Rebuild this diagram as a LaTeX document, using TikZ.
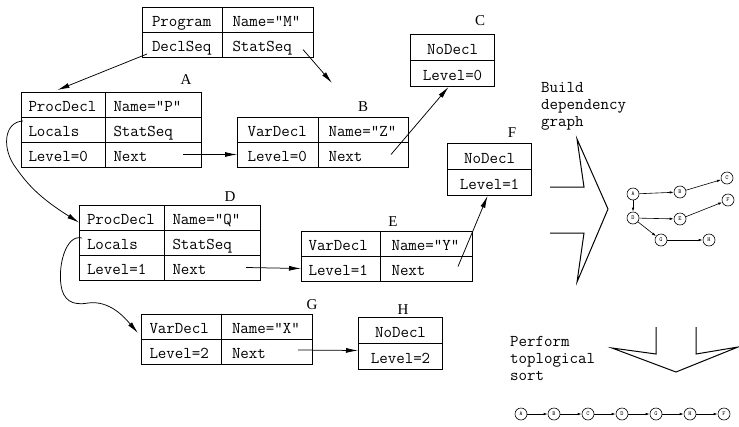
\documentclass[tikz,border=0pt]{standalone}
\usepackage{fontspec}
\setmainfont{Liberation Serif}
\usetikzlibrary{arrows.meta}

\begin{document}
\begin{tikzpicture}[x=1pt, y=-1pt,
    cell/.style 2 args={draw, line width=1pt, anchor=north west, align=left,
      text width=#1, inner xsep=#2, minimum height=25pt,
      text height=13pt, text depth=0pt, font=\ttfamily\fontsize{16.5}{17}\selectfont},
    nocell/.style={cell={68pt}{8pt}, align=center, minimum height=26pt},
    tag/.style={font=\fontsize{15}{18}\selectfont, inner sep=0pt},
    note/.style={anchor=north west, align=left, inner sep=0pt,
      font=\ttfamily\fontsize{16.5}{17}\selectfont},
    link/.style={-{Latex[length=12pt,width=5pt]}, line width=0.75pt},
    gnode/.style={draw, circle, minimum size=12pt, inner sep=0pt, line width=0.6pt,
      font=\ttfamily\fontsize{6}{6}\selectfont},
    dep/.style={-{Latex[length=4pt,width=2.5pt]}, line width=0.6pt},
    hollow/.style={line width=1pt, line join=miter}]
  \useasboundingbox (0,0) rectangle (739,426);

  % records
  \node[cell={61pt}{9.5pt}] (Pprog) at (142,7) {Program};
  \node[cell={71pt}{10pt}] (Pname) at (222,7) {Name="M"};
  \node[cell={61pt}{9.5pt}] (Pdecl) at (142,32) {DeclSeq};
  \node[cell={71pt}{10pt}] (Pstat) at (222,32) {StatSeq};

  \node[tag] (labA) at (186,80) {A};
  \node[cell={70pt}{7pt}] (Aproc) at (21,91.5) {ProcDecl};
  \node[cell={80pt}{8pt}] (Aname) at (105,91.5) {Name="P"};
  \node[cell={70pt}{7pt}] (Alocals) at (21,116.5) {Locals};
  \node[cell={80pt}{8pt}] (Astat) at (105,116.5) {StatSeq};
  \node[cell={70pt}{7pt}] (Alevel) at (21,141.5) {Level=0};
  \node[cell={80pt}{8pt}] (Anext) at (105,141.5) {Next};

  \node[tag] (labB) at (363,107) {B};
  \node[cell={61pt}{10pt}] (Bvar) at (237,116.5) {VarDecl};
  \node[cell={70pt}{10pt}] (Bname) at (318,116.5) {Name="Z"};
  \node[cell={61pt}{10pt}] (Blevel) at (237,141.5) {Level=0};
  \node[cell={70pt}{10pt}] (Bnext) at (318,141.5) {Next};

  \node[tag] (labC) at (480,21) {C};
  \node[nocell] (Cno) at (410,34) {NoDecl};
  \node[nocell] (Clevel) at (410,60) {Level=0};

  \node[tag] (labD) at (230,197) {D};
  \node[cell={70pt}{7.5pt}] (Dproc) at (79,204.5) {ProcDecl};
  \node[cell={80pt}{8pt}] (Dname) at (164,204.5) {Name="Q"};
  \node[cell={70pt}{7.5pt}] (Dlocals) at (79,229.5) {Locals};
  \node[cell={80pt}{8pt}] (Dstat) at (164,229.5) {StatSeq};
  \node[cell={70pt}{7.5pt}] (Dlevel) at (79,254.5) {Level=1};
  \node[cell={80pt}{8pt}] (Dnext) at (164,254.5) {Next};

  \node[tag] (labE) at (393,222) {E};
  \node[cell={65pt}{7pt}] (Evar) at (301,230.5) {VarDecl};
  \node[cell={70pt}{11pt}] (Ename) at (380,230.5) {Name="Y"};
  \node[cell={65pt}{7pt}] (Elevel) at (301,255.5) {Level=1};
  \node[cell={70pt}{11pt}] (Enext) at (380,255.5) {Next};

  \node[tag] (labF) at (512,133) {F};
  \node[nocell] (Fno) at (447,143) {NoDecl};
  \node[nocell] (Flevel) at (447,169) {Level=1};

  \node[tag] (labG) at (312,305) {G};
  \node[cell={64pt}{8pt}] (Gvar) at (141,314) {VarDecl};
  \node[cell={70pt}{10.5pt}] (Gname) at (221,314) {Name="X"};
  \node[cell={64pt}{8pt}] (Glevel) at (141,339) {Level=2};
  \node[cell={70pt}{10.5pt}] (Gnext) at (221,339) {Next};

  \node[tag] (labH) at (403,310) {H};
  \node[nocell] (Hno) at (358,317) {NoDecl};
  \node[nocell] (Hlevel) at (358,343) {Level=2};

  % pointers
  \coordinate (statB) at (332,83);
  \draw[link] ([shift={(5,-4)}]Pdecl.south west) -- ([shift={(-6,-1.5)}]Aproc.north);
  \draw[link] ([shift={(-11,4.5)}]Pstat.east) -- (statB);
  \draw[link] ([shift={(-19,0)}]Anext.east) -- (Blevel.west);
  \draw[link] ([shift={(-18,0)}]Bnext.east) -- ([shift={(-4,0)}]Clevel.south);
  \draw[link] ([shift={(-15,0)}]Dnext.east) -- (Elevel.west);
  \draw[link] ([shift={(-15,-2)}]Enext.east) -- ([shift={(-2,0)}]Flevel.south);
  \draw[link] ([shift={(-15,-2)}]Gnext.east) -- ([shift={(0,-6)}]Hlevel.west);
  \draw[link] ([shift={(2,4.5)}]Alocals.north west)
    .. controls (3,122) and (2,150) .. (16,168)
    .. controls (28,185) and (40,198) .. ([shift={(0,5)}]Dproc.west);
  \draw[link] ([shift={(3,8.5)}]Dlocals.north west)
    .. controls (66,234) and (58,265) .. (61,285)
    .. controls (63,300) and (72,306) .. (88,303)
    .. controls (110,300) and (125,318) .. ([shift={(-3,6)}]Gvar.west);

  % build dependency graph
  \node[note] (build) at (541,82.5) {Build\\dependency\\graph};
  \draw[hollow] (550,187) -- (584,187) -- (577,139) -- (608,209)
    -- (577,282) -- (584,233) -- (550,233);

  \node[gnode] (gA) at (633,194) {A};
  \node[gnode] (gB) at (680,192) {B};
  \node[gnode] (gC) at (727,178) {C};
  \node[gnode] (gD) at (633,218) {D};
  \node[gnode] (gE) at (680,219) {E};
  \node[gnode] (gF) at (728,200) {F};
  \node[gnode] (gG) at (661,240) {G};
  \node[gnode] (gH) at (709,240) {H};
  \draw[dep] (gA) -- (gB);
  \draw[dep] (gB) -- (gC);
  \draw[dep] (gA) -- (gD);
  \draw[dep] (gD) -- (gE);
  \draw[dep] (gE) -- (gF);
  \draw[dep] (gD) -- (gG);
  \draw[dep] (gG) -- (gH);

  % topological sort
  \node[note] (sort) at (510,336) {Perform\\toplogical\\sort};
  \draw[hollow] (656,327) -- (656,354) -- (612,348) -- (676,372)
    -- (738,347) -- (696,354) -- (696,327);

  \node[gnode] (sA) at (521,414) {A};
  \node[gnode] (sB) at (554,414) {B};
  \node[gnode] (sC) at (588,414) {C};
  \node[gnode] (sD) at (622,414) {D};
  \node[gnode] (sG) at (656,414) {G};
  \node[gnode] (sH) at (690,414) {H};
  \node[gnode] (sF) at (724,414) {F};
  \draw[dep] (sA) -- (sB);
  \draw[dep] (sB) -- (sC);
  \draw[dep] (sC) -- (sD);
  \draw[dep] (sD) -- (sG);
  \draw[dep] (sG) -- (sH);
  \draw[dep] (sH) -- (sF);
\end{tikzpicture}
\end{document}
